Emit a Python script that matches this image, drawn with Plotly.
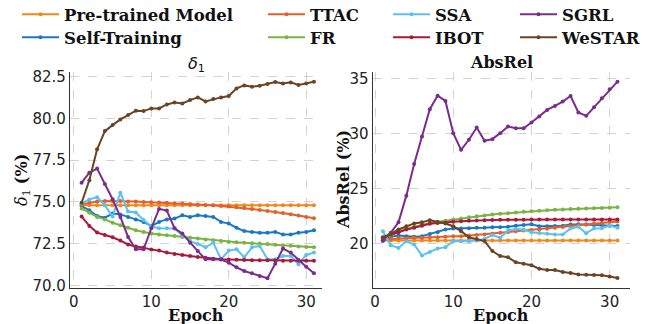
import plotly.graph_objects as go

epochs = list(range(1, 32))

# ---- delta_1 (%) ----
pre_d = [74.8, 74.8, 74.8, 74.8, 74.8, 74.8, 74.8, 74.8, 74.8, 74.8, 74.8, 74.8, 74.8, 74.8, 74.8, 74.8,
         74.8, 74.8, 74.8, 74.8, 74.8, 74.8, 74.8, 74.8, 74.8, 74.8, 74.8, 74.8, 74.8, 74.8, 74.8]
selftrain_d = [74.75, 74.5, 74.15, 74.05, 74.3, 74.25, 74.1, 73.95, 73.8, 73.55, 73.8, 73.95, 74.0, 74.2, 74.1, 74.2,
               74.15, 74.1, 73.8, 73.7, 73.45, 73.25, 73.2, 73.15, 73.15, 73.2, 73.05, 73.05, 73.15, 73.2, 73.3]
ttac_d = [74.85, 74.95, 75.02, 75.05, 75.05, 75.05, 75.03, 75.02, 75.0, 74.98, 74.97, 74.95, 74.92, 74.9, 74.87, 74.85,
          74.82, 74.8, 74.76, 74.72, 74.68, 74.63, 74.58, 74.52, 74.45, 74.4, 74.33, 74.26, 74.18, 74.1, 74.02]
fr_d = [74.6, 74.35, 74.1, 73.95, 73.75, 73.6, 73.45, 73.3, 73.2, 73.1, 73.05, 73.0, 72.95, 72.9, 72.85, 72.8,
        72.75, 72.7, 72.65, 72.6, 72.58, 72.55, 72.52, 72.5, 72.47, 72.43, 72.4, 72.37, 72.33, 72.3, 72.28]
ssa_d = [74.9, 75.15, 75.28, 74.8, 74.12, 75.55, 74.42, 74.36, 73.92, 73.52, 73.42, 73.42, 73.4, 73.0, 72.65, 72.48,
         72.28, 72.56, 71.56, 72.08, 72.16, 71.68, 72.28, 72.36, 71.56, 71.56, 71.76, 71.76, 71.27, 71.82, 71.96]
ibot_d = [74.12, 73.56, 73.16, 73.02, 72.88, 72.68, 72.45, 72.32, 72.26, 72.14, 72.08, 71.96, 71.88, 71.82, 71.76, 71.7,
          71.65, 71.6, 71.57, 71.55, 71.53, 71.52, 71.5, 71.5, 71.5, 71.49, 71.48, 71.48, 71.48, 71.47, 71.47]
sgrl_d = [76.15, 76.75, 77.0, 76.07, 75.16, 74.1, 72.9, 72.16, 72.16, 73.42, 74.58, 74.48, 73.42, 73.1, 72.55, 72.05,
          71.56, 71.56, 71.55, 71.36, 71.08, 70.86, 70.72, 70.56, 70.42, 71.3, 72.2, 71.96, 71.52, 71.12, 70.72]
westar_d = [74.95, 76.3, 78.15, 79.24, 79.6, 79.94, 80.2, 80.46, 80.44, 80.6, 80.6, 80.84, 80.96, 80.9, 81.1, 81.26,
            81.02, 81.16, 81.26, 81.34, 81.8, 81.98, 81.9, 81.96, 82.06, 82.18, 82.1, 82.16, 82.0, 82.1, 82.2]

# ---- AbsRel (%) ----
pre_a = [20.3, 20.3, 20.3, 20.3, 20.3, 20.3, 20.3, 20.3, 20.3, 20.3, 20.3, 20.3, 20.3, 20.3, 20.3, 20.3,
         20.3, 20.3, 20.3, 20.3, 20.3, 20.3, 20.3, 20.3, 20.3, 20.3, 20.3, 20.3, 20.3, 20.3, 20.3]
selftrain_a = [20.25, 20.65, 20.75, 20.7, 20.64, 20.7, 20.9, 21.05, 21.3, 21.4, 21.4, 21.42, 21.45, 21.45, 21.5, 21.5,
               21.55, 21.65, 21.72, 21.78, 21.6, 21.6, 21.62, 21.65, 21.75, 21.78, 21.75, 21.72, 21.7, 21.65, 21.62]
ttac_a = [20.4, 20.45, 20.5, 20.5, 20.55, 20.55, 20.6, 20.6, 20.65, 20.7, 20.7, 20.75, 20.8, 20.85, 20.92, 21.0,
          21.08, 21.15, 21.2, 21.25, 21.3, 21.38, 21.45, 21.52, 21.6, 21.68, 21.76, 21.84, 21.9, 21.97, 22.03]
fr_a = [20.5, 20.8, 21.1, 21.35, 21.55, 21.75, 21.9, 22.0, 22.1, 22.2, 22.3, 22.4, 22.5, 22.58, 22.65, 22.72,
        22.78, 22.84, 22.9, 22.95, 23.0, 23.04, 23.08, 23.12, 23.15, 23.18, 23.2, 23.23, 23.26, 23.28, 23.32]
ssa_a = [21.15, 19.87, 19.63, 20.24, 19.94, 18.94, 19.27, 19.57, 19.7, 20.24, 20.24, 20.24, 20.3, 20.45, 20.8, 20.55,
         21.2, 21.35, 21.3, 21.05, 20.98, 20.92, 20.85, 20.85, 21.4, 21.55, 20.95, 21.4, 21.42, 21.65, 21.45]
ibot_a = [20.55, 20.85, 21.05, 21.3, 21.45, 21.65, 21.82, 21.9, 21.92, 22.0, 22.05, 22.1, 22.12, 22.15, 22.17, 22.18,
          22.18, 22.18, 22.19, 22.2, 22.2, 22.2, 22.2, 22.2, 22.2, 22.2, 22.2, 22.2, 22.2, 22.2, 22.2]
sgrl_a = [20.33, 21.0, 21.96, 24.37, 27.23, 29.73, 32.2, 33.43, 32.95, 30.03, 28.52, 29.43, 30.54, 29.34, 29.49, 30.03,
          30.63, 30.48, 30.48, 30.99, 31.54, 32.14, 32.5, 32.89, 33.4, 31.9, 31.6, 32.38, 33.19, 34.0, 34.7]
westar_a = [20.6, 20.9, 21.3, 21.6, 21.85, 21.95, 22.15, 21.98, 21.85, 21.6, 21.15, 20.6, 20.45, 20.25, 19.35, 18.9,
            18.78, 18.33, 18.2, 18.06, 17.75, 17.63, 17.62, 17.45, 17.35, 17.22, 17.2, 17.18, 17.15, 17.05, 16.9]

methods = ["Pre-trained Model", "Self-Training", "TTAC", "FR", "SSA", "IBOT", "SGRL", "WeSTAR"]
colors = ["#F0891A", "#1A78C2", "#E4602A", "#7CB342", "#5BC2F0", "#A8193A", "#7B2D8E", "#6B4423"]
delta_series = [pre_d, selftrain_d, ttac_d, fr_d, ssa_d, ibot_d, sgrl_d, westar_d]
absrel_series = [pre_a, selftrain_a, ttac_a, fr_a, ssa_a, ibot_a, sgrl_a, westar_a]
legend_ids = ["legend", "legend2", "legend3", "legend4", "legend5", "legend6", "legend7", "legend8"]

fig = go.Figure()
for name, col, lg, yd in zip(methods, colors, legend_ids, delta_series):
    fig.add_trace(go.Scatter(x=epochs, y=yd, name=name, mode="lines+markers",
                             line=dict(color=col, width=2), marker=dict(color=col, size=4),
                             xaxis="x", yaxis="y", legend=lg, showlegend=True))
for name, col, ya in zip(methods, colors, absrel_series):
    fig.add_trace(go.Scatter(x=epochs, y=ya, name=name, mode="lines+markers",
                             line=dict(color=col, width=2), marker=dict(color=col, size=4),
                             xaxis="x2", yaxis="y2", showlegend=False))

W, H = 655, 324
def px(x):
    return x / W
def py(y):
    return 1 - y / H

tickfont = dict(family="DejaVu Sans", size=15, color="#222222")
axis_common = dict(showgrid=True, griddash="dash", gridcolor="#d3d3d3", gridwidth=1,
                   showline=True, linecolor="#333333", linewidth=1.3, zeroline=False,
                   ticks="", tickfont=tickfont, mirror=False, automargin=False)

ydom = [py(288), py(71.7)]
fig.update_layout(
    template="none",
    width=W, height=H, margin=dict(l=0, r=0, t=0, b=0, pad=0, autoexpand=False),
    paper_bgcolor="white", plot_bgcolor="white",
    xaxis=dict(domain=[px(70), px(321.7)], range=[-0.5, 32], tickvals=[0, 10, 20, 30], anchor="y", **axis_common),
    yaxis=dict(domain=ydom, range=[69.84, 82.8], tickvals=[70, 72.5, 75, 77.5, 80, 82.5], tickformat=".1f",
               anchor="x", **axis_common),
    xaxis2=dict(domain=[px(372.7), px(630)], range=[-0.3, 32.6], tickvals=[0, 10, 20, 30], anchor="y2", **axis_common),
    yaxis2=dict(domain=ydom, range=[16.0, 35.6], tickvals=[20, 25, 30, 35], anchor="x2", **axis_common),
    showlegend=True,
)

legfont = dict(family="DejaVu Serif", size=16.5, color="#111111", weight="bold")
col_x = [17, 17, 263, 263, 388, 388, 515, 515]
row_top = [-3, 20, -3, 20, -3, 20, -3, 20]
for lg, xl, yl in zip(legend_ids, col_x, row_top):
    fig.update_layout({lg: dict(x=px(xl), y=py(yl), xanchor="left", yanchor="top", orientation="v",
                                bgcolor="rgba(0,0,0,0)", borderwidth=0, font=legfont,
                                tracegroupgap=0, itemwidth=37)})

serif_bold = dict(family="DejaVu Serif", size=16, color="#111111")
annos = [
    dict(text="<i>δ</i><sub>1</sub>", x=px(196), y=py(64), font=dict(family="DejaVu Sans", size=16, color="#111111")),
    dict(text="<b>AbsRel</b>", x=px(501), y=py(63), font=serif_bold),
    dict(text="<b>Epoch</b>", x=px(196), y=py(315), font=serif_bold),
    dict(text="<b>Epoch</b>", x=px(501), y=py(315), font=serif_bold),
    dict(text="<i>δ</i><sub>1</sub> <b>(%)</b>", x=px(22), y=py(180), textangle=-90,
         font=dict(family="DejaVu Serif", size=16, color="#111111")),
    dict(text="<b>AbsRel (%)</b>", x=px(343), y=py(180), textangle=-90, font=serif_bold),
]
for a in annos:
    a.update(xref="paper", yref="paper", showarrow=False, xanchor="center", yanchor="middle")
fig.update_layout(annotations=annos)

fig.write_html("out.html", config={"displayModeBar": False},
               post_script="document.body.style.margin='0';document.body.style.overflow='hidden';")
